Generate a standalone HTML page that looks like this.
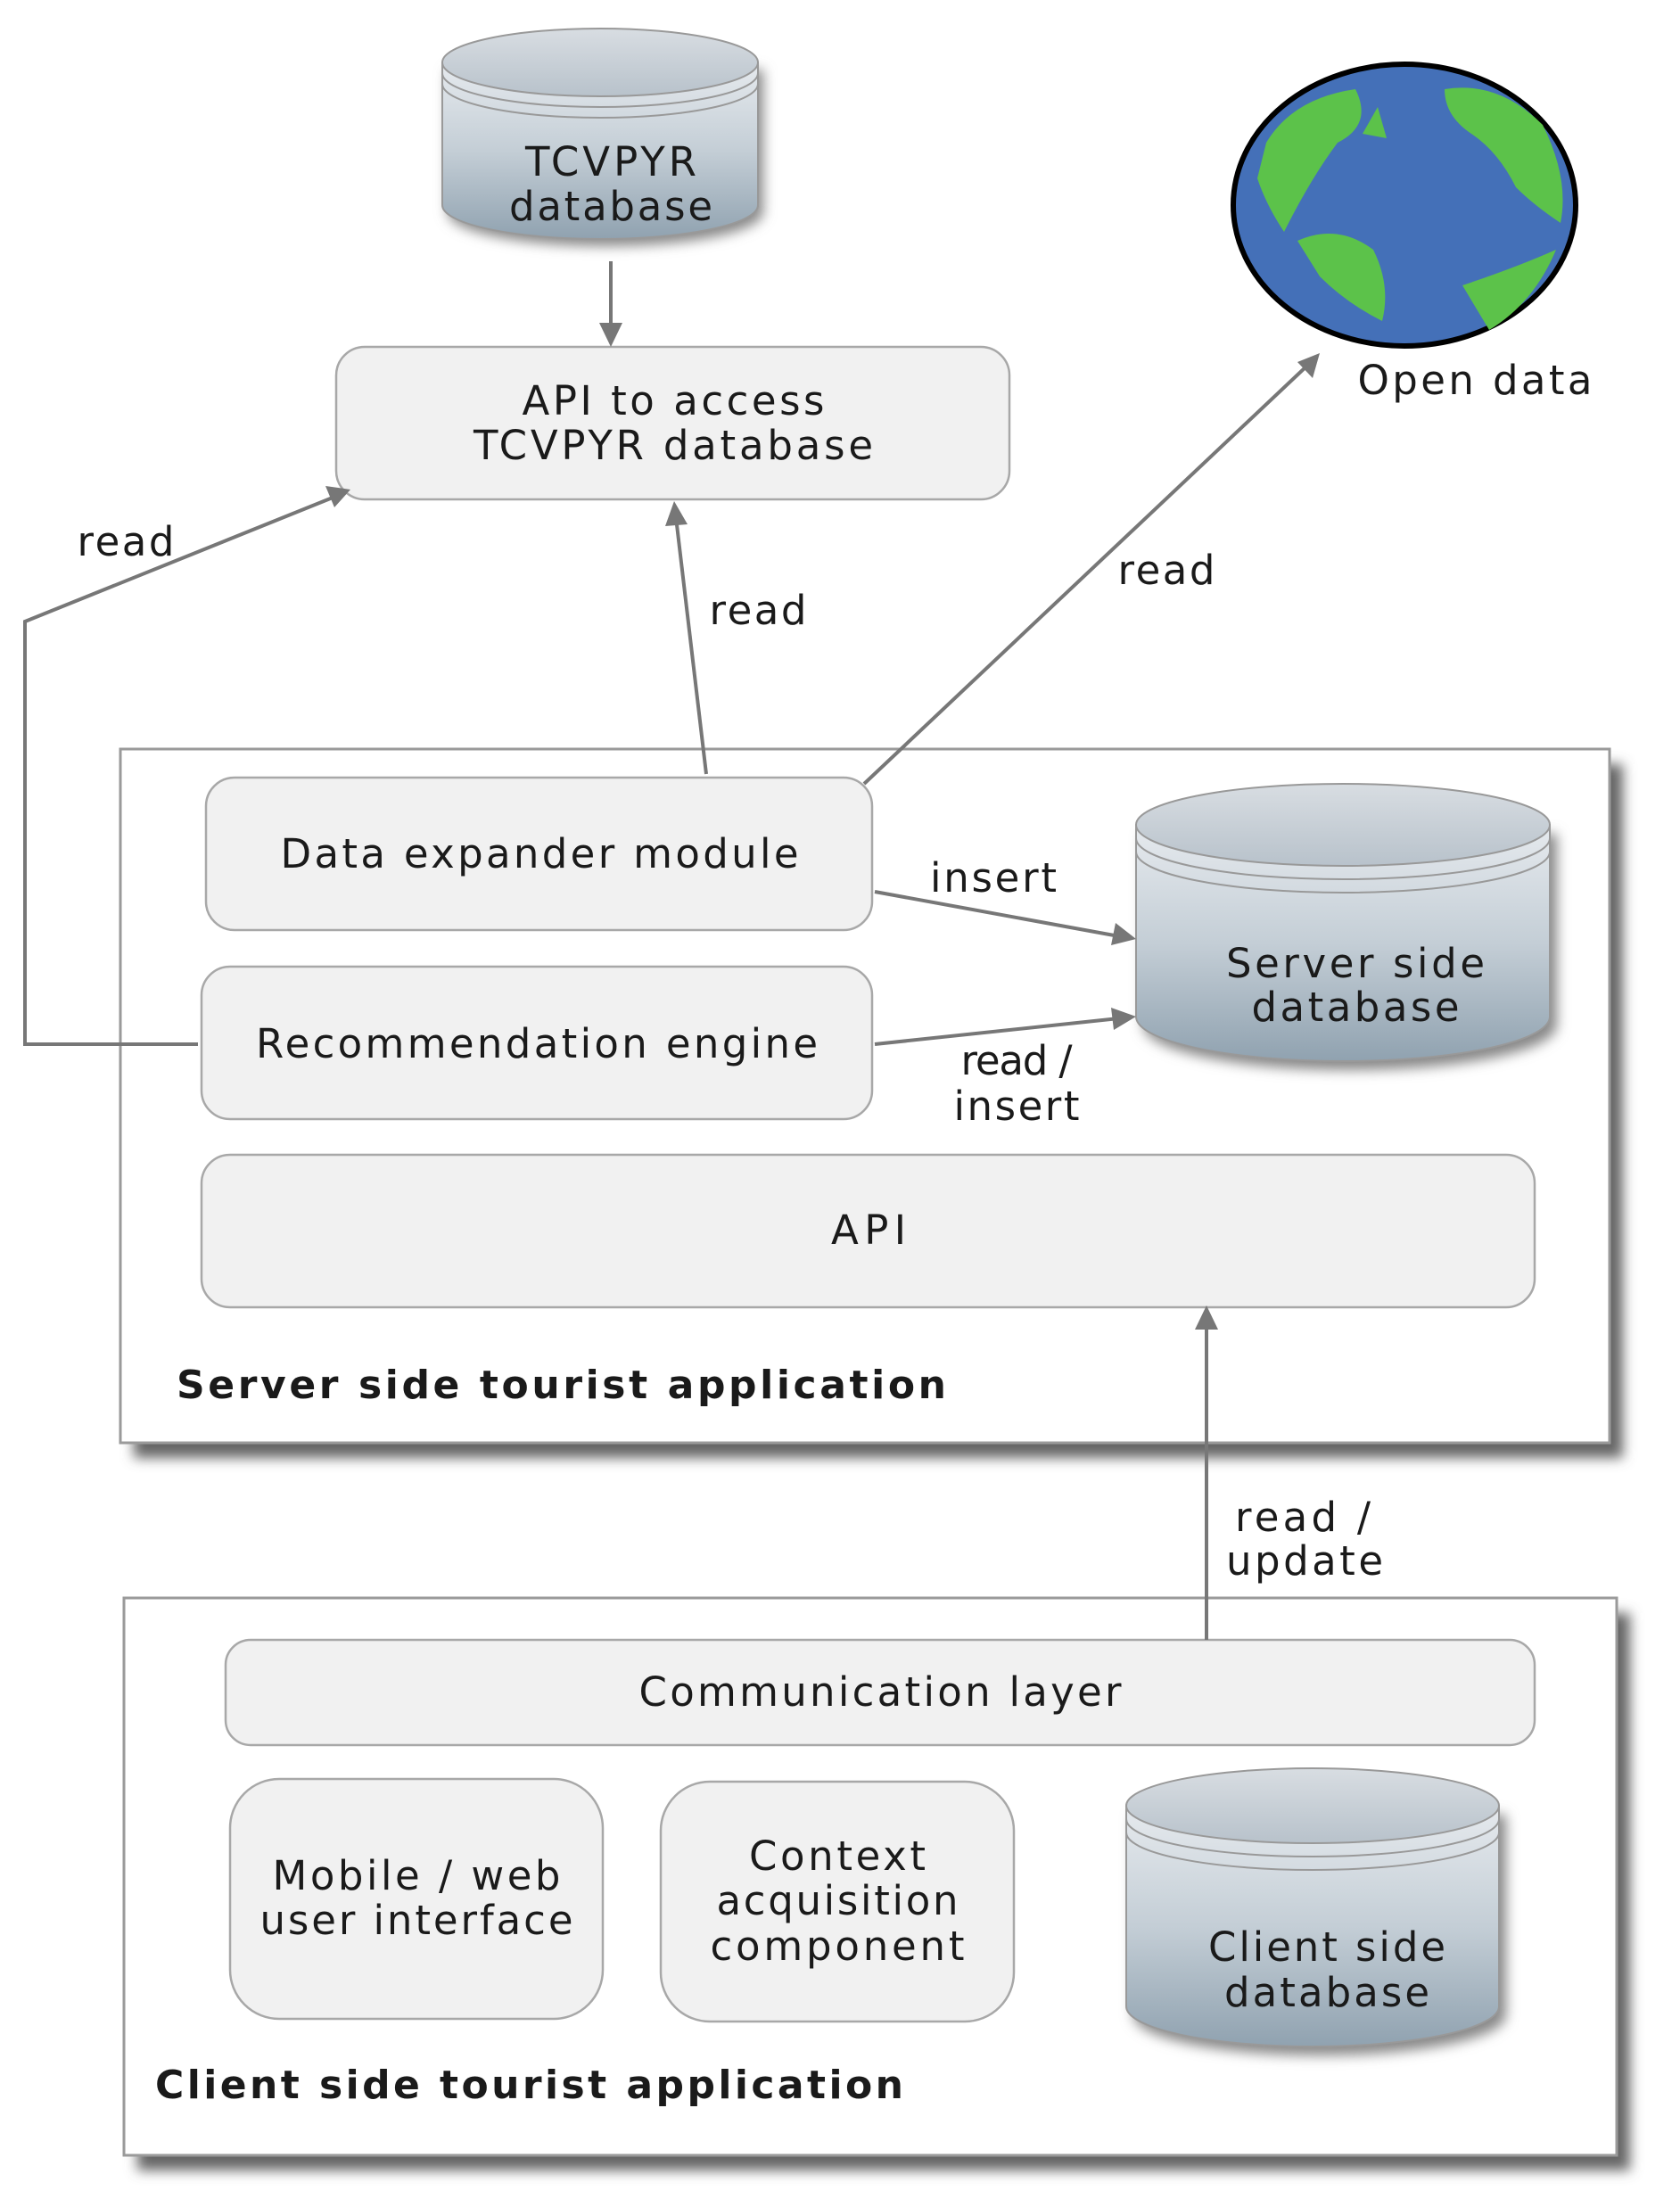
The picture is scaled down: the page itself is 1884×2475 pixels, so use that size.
<!DOCTYPE html>
<html><head><meta charset="utf-8"><style>
html,body{margin:0;padding:0;background:#fff}
svg{display:block}
text{font-family:"DejaVu Sans","Liberation Sans",sans-serif;fill:#1a1a1a}
</style></head><body>
<svg width="1884" height="2475" viewBox="0 0 1884 2475" xmlns="http://www.w3.org/2000/svg">
<defs>
<linearGradient id="cyl" x1="0" y1="0" x2="0" y2="1">
<stop offset="0" stop-color="#e6eaee"/><stop offset="0.5" stop-color="#c4ced6"/><stop offset="1" stop-color="#90a2b0"/>
</linearGradient>
<linearGradient id="top" x1="0" y1="0" x2="0" y2="1">
<stop offset="0" stop-color="#d8dde2"/><stop offset="1" stop-color="#b8c2cb"/>
</linearGradient>
<filter id="sh" x="-10%" y="-10%" width="130%" height="130%"><feGaussianBlur stdDeviation="7"/></filter>
</defs>

<rect x="150" y="857" width="1670" height="778" fill="#666" filter="url(#sh)"/>
<rect x="154" y="1809" width="1674" height="625" fill="#666" filter="url(#sh)"/>
<rect x="135" y="840" width="1670" height="778" fill="#fff" stroke="#9a9a9a" stroke-width="3"/>
<rect x="139" y="1792" width="1674" height="625" fill="#fff" stroke="#9a9a9a" stroke-width="3"/>

<g fill="#f1f1f1" stroke="#a8a8a8" stroke-width="2.5">
<rect x="377" y="389" width="755" height="171" rx="32"/>
<rect x="231" y="872" width="747" height="171" rx="32"/>
<rect x="226" y="1084" width="752" height="171" rx="32"/>
<rect x="226" y="1295" width="1495" height="171" rx="32"/>
<rect x="253" y="1839" width="1468" height="118" rx="28"/>
<rect x="258" y="1995" width="418" height="269" rx="55"/>
<rect x="741" y="1998" width="396" height="269" rx="55"/>
</g>

<g>
<path d="M496,70 V230 A177,38 0 0 0 850,230 V70" fill="#888" filter="url(#sh)" transform="translate(6,8)"/>
<path d="M496,70 V230 A177,38 0 0 0 850,230 V70 Z" fill="url(#cyl)" stroke="#999" stroke-width="2"/>
<ellipse cx="673" cy="70" rx="177" ry="38" fill="url(#top)" stroke="#999" stroke-width="2"/>
<path d="M496,82 A177,38 0 0 0 850,82 M496,94 A177,38 0 0 0 850,94" fill="none" stroke="#999" stroke-width="2"/>
</g>
<g>
<path d="M1274,925 V1140 A232,50 0 0 0 1738,1140 V925" fill="#888" filter="url(#sh)" transform="translate(8,10)"/>
<path d="M1274,925 V1140 A232,50 0 0 0 1738,1140 V925 Z" fill="url(#cyl)" stroke="#999" stroke-width="2"/>
<ellipse cx="1506" cy="925" rx="232" ry="46" fill="url(#top)" stroke="#999" stroke-width="2"/>
<path d="M1274,940 A232,46 0 0 0 1738,940 M1274,955 A232,46 0 0 0 1738,955" fill="none" stroke="#999" stroke-width="2"/>
</g>
<g>
<path d="M1263,2025 V2250 A209,45 0 0 0 1681,2250 V2025" fill="#888" filter="url(#sh)" transform="translate(8,10)"/>
<path d="M1263,2025 V2250 A209,45 0 0 0 1681,2250 V2025 Z" fill="url(#cyl)" stroke="#999" stroke-width="2"/>
<ellipse cx="1472" cy="2025" rx="209" ry="42" fill="url(#top)" stroke="#999" stroke-width="2"/>
<path d="M1263,2040 A209,42 0 0 0 1681,2040 M1263,2055 A209,42 0 0 0 1681,2055" fill="none" stroke="#999" stroke-width="2"/>
</g>

<ellipse cx="1575" cy="230" rx="192" ry="158" fill="#4470b8" stroke="#000" stroke-width="6"/>
<path d="M1420,160 Q1450,110 1520,100 Q1540,140 1500,160 Q1470,200 1440,260 Q1420,230 1410,200 Z" fill="#5cc24a"/>
<path d="M1620,100 Q1680,90 1730,140 Q1760,200 1750,250 Q1720,230 1700,210 Q1680,170 1650,150 Q1620,130 1620,100 Z" fill="#5cc24a"/>
<path d="M1455,270 Q1500,250 1540,280 Q1560,320 1550,360 Q1510,340 1480,310 Z" fill="#5cc24a"/>
<path d="M1640,320 Q1700,300 1745,280 Q1720,340 1670,370 Q1640,360 Z" fill="#5cc24a"/>
<path d="M1528,150 L1545,120 L1555,155 Z" fill="#5cc24a"/>

<g stroke="#777" stroke-width="4" fill="none">
<line x1="685" y1="293" x2="685" y2="370"/>
<line x1="792" y1="868" x2="758" y2="580"/>
<line x1="969" y1="879" x2="1466" y2="410"/>
<polyline points="222,1171 28,1171 28,697 378,556"/>
<line x1="981" y1="1000" x2="1255" y2="1050"/>
<line x1="981" y1="1171" x2="1255" y2="1142"/>
<line x1="1353" y1="1839" x2="1353" y2="1485"/>
</g>
<g fill="#777">
<polygon points="685,389 672,362 698,362"/>
<polygon points="756,562 746,590 771,588"/>
<polygon points="1480,396 1472,424 1455,406"/>
<polygon points="393,549 375,569 365,545"/>
<polygon points="1274,1053 1246,1060 1251,1035"/>
<polygon points="1274,1140 1249,1155 1246,1130"/>
<polygon points="1353,1464 1340,1491 1366,1491"/>
</g>

<g font-size="45" text-anchor="middle" lengthAdjust="spacing">
<text x="685" y="197" textLength="192">TCVPYR</text>
<text x="685" y="247" textLength="228">database</text>
<text x="755" y="465" textLength="339">API to access</text>
<text x="755" y="515" textLength="448">TCVPYR database</text>
<text x="1654" y="442" textLength="263">Open data</text>
<text x="1308" y="655" textLength="109">read</text>
<text x="850" y="700" textLength="109">read</text>
<text x="141" y="623" textLength="109">read</text>
<text x="605" y="973" textLength="581">Data expander module</text>
<text x="602" y="1186" textLength="630">Recommendation engine</text>
<text x="974" y="1395" textLength="84">API</text>
<text x="1520" y="1096" textLength="290">Server side</text>
<text x="1520" y="1145" textLength="233">database</text>
<text x="1114" y="1000" textLength="142">insert</text>
<text x="1140" y="1205" textLength="125">read /</text>
<text x="1140" y="1256" textLength="141">insert</text>
<text x="1461" y="1717" textLength="152">read /</text>
<text x="1463" y="1766" textLength="176">update</text>
<text x="987" y="1913" textLength="541">Communication layer</text>
<text x="467" y="2119" textLength="323">Mobile / web</text>
<text x="467" y="2169" textLength="351">user interface</text>
<text x="939" y="2097" textLength="198">Context</text>
<text x="939" y="2147" textLength="271">acquisition</text>
<text x="939" y="2198" textLength="285">component</text>
<text x="1488" y="2199" textLength="266">Client side</text>
<text x="1488" y="2250" textLength="230">database</text>
</g>
<g font-size="44" font-weight="bold" lengthAdjust="spacing">
<text x="198" y="1568" textLength="863">Server side tourist application</text>
<text x="174" y="2353" textLength="839">Client side tourist application</text>
</g>
</svg>
</body></html>
